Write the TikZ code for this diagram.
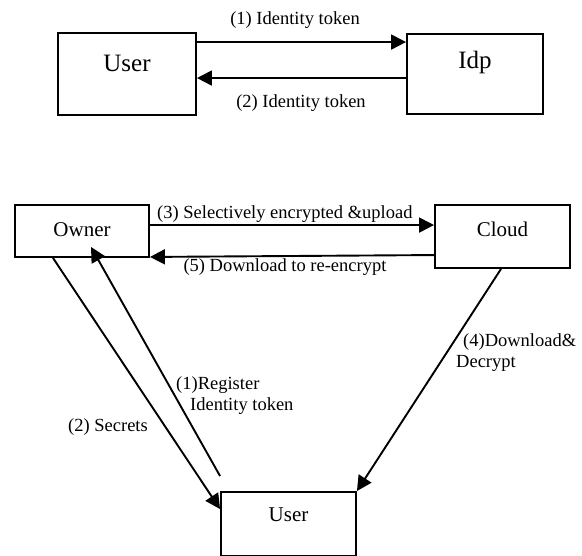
\documentclass[tikz,border=0pt]{standalone}
\usepackage{fontspec}
\setmainfont{Liberation Serif}
\usetikzlibrary{arrows.meta}
\begin{document}
\begin{tikzpicture}[x=1pt,y=-1pt,
  box/.style={draw,line width=1.9pt,inner sep=0pt},
  conn/.style={line width=1.9pt,-{Triangle[length=15pt,width=15pt]}},
  lbl/.style={font=\fontsize{18.5}{21}\selectfont,inner sep=0pt},
  bigtxt/.style={font=\fontsize{25}{28}\selectfont,inner sep=0pt},
  midtxt/.style={font=\fontsize{21}{24}\selectfont,inner sep=0pt}]
\useasboundingbox (0,0) rectangle (582,556);
% top part
\node[box,minimum width=138pt,minimum height=82pt,label={[bigtxt,yshift=11pt]center:User}] (u1) at (127,74) {};
\node[box,minimum width=136pt,minimum height=80pt,label={[bigtxt,yshift=12pt]center:Idp}] (idp) at (475,74) {};
\draw[conn] ([yshift=-10pt]u1.north east) -- ([yshift=-9pt]idp.north west);
\draw[conn] ([yshift=-45pt]idp.north west) -- ([yshift=-46pt]u1.north east);
\node[lbl] (l1) at (295,20) {(1) Identity token};
\node[lbl] (l2) at (301,103) {(2) Identity token};
% bottom part
\node[box,minimum width=134pt,minimum height=52pt,label={[midtxt,yshift=1pt]center:Owner}] (owner) at (82,231) {};
\node[box,minimum width=135pt,minimum height=63pt,label={[midtxt,yshift=7.5pt]center:Cloud}] (cloud) at (502.5,236.5) {};
\node[box,minimum width=135pt,minimum height=64pt,label={[midtxt,yshift=9pt]center:User}] (u2) at (288.5,524) {};
\draw[conn] ([yshift=-21pt]owner.north east) -- ([yshift=-21pt]cloud.north west);
\draw[conn] ([yshift=-51pt]cloud.north west) -- ([yshift=1pt]owner.south east);
\draw[conn] ([xshift=-29pt]owner.south) -- ([yshift=-18pt]u2.north west);
\draw[conn] ([yshift=15pt]u2.north west) -- ([xshift=9pt,yshift=11pt]owner.south);
\draw[conn] ([xshift=-1.5pt]cloud.south) -- (u2.north east);
\node[lbl,anchor=west] (l3) at (157,214) {(3) Selectively encrypted \&upload};
\node[lbl] (l5) at (285,267) {(5) Download to re-encrypt};
\node[lbl,anchor=west] (l2s) at (68,427) {(2) Secrets};
\node[lbl,anchor=west,align=left] (l1r) at (176,395.5) {(1)Register\\\hspace*{14pt}Identity token};
\node[lbl,anchor=west,align=left] (l4) at (456,353) {\hspace*{7pt}(4)Download\&\\Decrypt};
\end{tikzpicture}
\end{document}
